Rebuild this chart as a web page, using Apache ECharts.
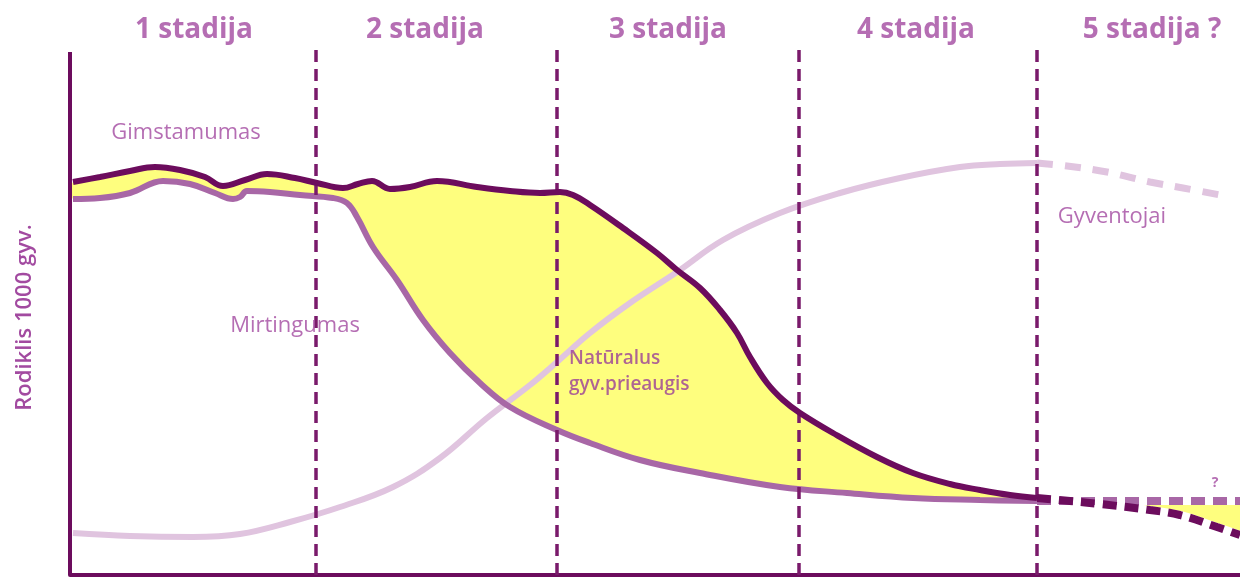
<!DOCTYPE html>
<html>
<head>
<meta charset="utf-8">
<script src="https://cdn.jsdelivr.net/npm/echarts@6/dist/echarts.min.js"></script>
<style>
  html, body { margin: 0; padding: 0; background: #ffffff; }
  #chart { width: 1240px; height: 578px; }
</style>
</head>
<body>
<div id="chart"></div>
<script>
// ---- data (x: time units, y: rate per 1000) ----
const birthRate = [[0.3,39.3],[3,39.8],[6,40.4],[8.5,40.8],[11,40.5],[13.5,39.8],[15.3,38.9],[17.5,39.5],[19.7,40.1],[22.5,39.7],[24.7,39.2],[27.3,38.7],[28.8,39.1],[30.2,39.4],[32,38.6],[34,38.8],[36.7,39.4],[40.7,38.8],[44,38.4],[47,38.2],[49,38.3],[50.3,38.0],[52,37.0],[55.3,34.7],[58.7,32.2],[60.7,30.5],[63,28.7],[65,26.5],[66.7,24.2],[68,21.8],[69.7,19.2],[71.3,17.5],[73,16.2],[76.3,14.2],[80.7,11.8],[84.3,10.2],[88,9.1],[91,8.5],[94,8.0],[96.7,7.7]];
const birthFuture = [[96.7,7.7],[100,7.4],[103,7.1],[108,6.5],[111,6.0],[114.7,4.8],[117,4.0]];
const deathRate = [[0.3,37.6],[3,37.7],[6,38.2],[9.3,39.4],[12,39.1],[14.5,38.2],[16.3,37.6],[17,37.8],[17.7,38.4],[20,38.3],[23,38.0],[26.3,37.7],[27.7,37.2],[28.7,35.8],[30.3,32.8],[32.7,29.5],[35.3,25.5],[38,22.2],[41,19.2],[44,16.8],[48.7,14.5],[52,13.2],[57,11.5],[63,10.2],[71,8.8],[77.7,8.2],[84.3,7.7],[91,7.5],[96.7,7.4]];
const deathFuture = [[96.7,7.4],[117,7.4]];
const population = [[0.3,4.2],[6,3.9],[12.3,3.8],[17,4.1],[22,5.3],[27,6.8],[32.3,8.8],[37,11.7],[41.7,15.7],[46,19.0],[48.7,21.3],[52,24.2],[56,27.2],[60.7,30.3],[65.3,33.5],[71,36.2],[77,38.2],[83,39.7],[89,40.8],[93,41.1],[96.7,41.2]];
const populationFuture = [[96.7,41.2],[99.7,40.9],[103.7,40.3],[108,39.3],[111.3,38.7],[115,38.0]];

const stageBounds = [24.6, 48.7, 72.9, 96.7];
const stageNames = ['1 stadija', '2 stadija', '3 stadija', '4 stadija', '5 stadija ?'];
const stageLabelX = [12.4, 35.5, 59.8, 84.6, 108.2];
const stageLabelY = 54.5;

const annotationTexts = ['Gimstamumas', 'Mirtingumas', 'Gyventojai', '?'];
const annotationPos = [[11.6, 44.2], [22.5, 24.9], [104.2, 35.8], [114.5, 9.2]];
const naturalTexts = ['Natūralus', 'gyv.prieaugis'];
const naturalPos = [[49.9, 21.6], [49.9, 19.0]];

const yTitle = 'Rodiklis 1000 gyv.';
const yAxisTop = 52.3;
const lineTop = 53.2;

// ---- colours ----
const cBirth = '#6c0c5d';
const cDeath = '#a867a6';
const cPop = '#e0c4df';
const cYellow = '#fefe7e';
const cText = '#a24aa0';

const chart = echarts.init(document.getElementById('chart'), null, { renderer: 'canvas' });

const fillPoints = birthRate.concat(birthFuture.slice(1))
  .concat(deathFuture.slice().reverse())
  .concat(deathRate.slice(0, -1).reverse());

function lineSeries(name, data, color, width, dash, z, smooth) {
  return {
    type: 'line', name: name, z: z, data: data, showSymbol: false,
    smooth: smooth, silent: true,
    lineStyle: dash ? { color: color, width: width, type: dash, cap: 'butt' } : { color: color, width: width }
  };
}

const option = {
  backgroundColor: '#ffffff',
  animation: false,
  grid: { left: 70, right: 0, top: 0, bottom: 3, containLabel: false },
  xAxis: {
    type: 'value', min: 0, max: 117,
    axisLine: { show: true, onZero: false, lineStyle: { color: cBirth, width: 4 } },
    axisTick: { show: false }, axisLabel: { show: false }, splitLine: { show: false }
  },
  yAxis: {
    type: 'value', min: 0, max: 57.5,
    name: yTitle, nameLocation: 'middle', nameGap: 34,
    nameTextStyle: { color: cText, fontSize: 22, fontWeight: 600, fontFamily: 'Open Sans', padding: [0, 60, 0, 0] },
    axisLine: { show: false }, axisTick: { show: false }, axisLabel: { show: false }, splitLine: { show: false }
  },
  series: [
    {
      type: 'custom', name: 'fill', z: 1, silent: true, clip: false,
      data: [[0, 0]],
      renderItem: function (params, api) {
        const pts = fillPoints.map(p => api.coord(p));
        return { type: 'polygon', shape: { points: pts, smooth: 0.3 }, style: { fill: cYellow } };
      }
    },
    lineSeries('Gyventojai', population, cPop, 6, null, 2, 0.4),
    lineSeries('Gyventojai ateitis', populationFuture, cPop, 7, [16, 12], 2, 0.4),
    lineSeries('Mirtingumas', deathRate, cDeath, 6, null, 3, 0.4),
    lineSeries('Mirtingumas fonas', deathFuture, '#ffffff', 8, null, 3, 0),
    lineSeries('Gimstamumas fonas', birthFuture, '#ffffff', 8, null, 3, 0.4),
    lineSeries('Mirtingumas ateitis', deathFuture, cDeath, 8, [14, 8], 4, 0),
    lineSeries('Gimstamumas', birthRate, cBirth, 6, null, 5, 0.4),
    lineSeries('Gimstamumas ateitis', birthFuture, cBirth, 8, [14, 8], 5, 0.4),
    {
      type: 'line', name: 'guides', z: 6, data: [], silent: true,
      markLine: {
        silent: true, symbol: ['none', 'none'], label: { show: false },
        data: stageBounds.map(x => [
          { coord: [x, 0], lineStyle: { color: '#7a1a6b', width: 3.5, type: [12, 7] } },
          { coord: [x, lineTop] }
        ]).concat([[
          { coord: [0, 0], lineStyle: { color: cBirth, width: 4, type: 'solid' } },
          { coord: [0, yAxisTop] }
        ]])
      }
    },
    {
      type: 'scatter', name: 'stages', z: 7, clip: false, silent: true, symbolSize: 0,
      data: stageNames.map((n, i) => ({ value: [stageLabelX[i], stageLabelY], name: n })),
      label: {
        show: true, position: 'inside', formatter: p => p.name,
        color: cText, fontSize: 28, fontWeight: 'bold', fontFamily: 'Open Sans'
      }
    },
    {
      type: 'scatter', name: 'notes', z: 7, clip: false, silent: true, symbolSize: 0,
      data: annotationTexts.map((n, i) => ({ value: annotationPos[i], name: n })),
      label: {
        show: true, position: 'inside', formatter: p => p.name,
        color: cText, fontSize: 22, fontFamily: 'Open Sans'
      }
    },
    {
      type: 'scatter', name: 'natural', z: 7, clip: false, silent: true, symbolSize: 0,
      data: naturalTexts.map((n, i) => ({ value: naturalPos[i], name: n })),
      label: {
        show: true, position: 'inside', align: 'left', formatter: p => p.name,
        color: '#9a3f98', fontSize: 19, fontWeight: 600, fontFamily: 'Open Sans'
      }
    }
  ]
};
// smaller question mark
option.series[11].data[3].label = { fontSize: 14, fontWeight: 'bold' };
chart.setOption(option);
</script>
</body>
</html>
